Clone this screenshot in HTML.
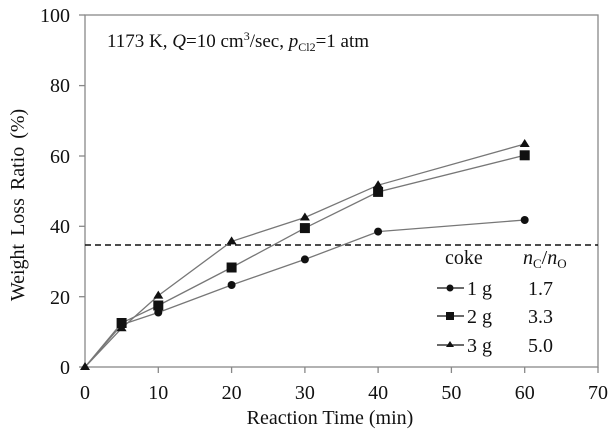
<!DOCTYPE html>
<html><head><meta charset="utf-8"><style>body{margin:0;background:#fff}svg{display:block}</style></head>
<body>
<svg width="614" height="437" viewBox="0 0 614 437" font-family="Liberation Serif, serif" fill="#111">
<rect x="85" y="15" width="513" height="352" fill="none" stroke="#888" stroke-width="1.3"/>
<g stroke="#888" stroke-width="1.3">
<line x1="79" y1="367" x2="85" y2="367"/><line x1="79" y1="296.7" x2="85" y2="296.7"/><line x1="79" y1="226.3" x2="85" y2="226.3"/><line x1="79" y1="156" x2="85" y2="156"/><line x1="79" y1="85.6" x2="85" y2="85.6"/><line x1="79" y1="15" x2="85" y2="15"/>
<line x1="158.3" y1="367" x2="158.3" y2="373"/><line x1="231.6" y1="367" x2="231.6" y2="373"/><line x1="304.9" y1="367" x2="304.9" y2="373"/><line x1="378.1" y1="367" x2="378.1" y2="373"/><line x1="451.4" y1="367" x2="451.4" y2="373"/><line x1="524.7" y1="367" x2="524.7" y2="373"/><line x1="598" y1="367" x2="598" y2="373"/>
</g>
<g font-size="20" text-anchor="end">
<text x="70" y="374">0</text><text x="70" y="304">20</text><text x="70" y="233">40</text><text x="70" y="163">60</text><text x="70" y="92">80</text><text x="70" y="22">100</text>
</g>
<g font-size="20" text-anchor="middle">
<text x="85" y="399">0</text><text x="158.3" y="399">10</text><text x="231.6" y="399">20</text><text x="304.9" y="399">30</text><text x="378.1" y="399">40</text><text x="451.4" y="399">50</text><text x="524.7" y="399">60</text><text x="598" y="399">70</text>
</g>
<text x="330" y="424" font-size="20" text-anchor="middle">Reaction Time (min)</text>
<text transform="translate(24,205) rotate(-90)" font-size="20" text-anchor="middle" word-spacing="3">Weight Loss Ratio (%)</text>
<text x="107" y="47" font-size="19">1173 K, <tspan font-style="italic">Q</tspan>=10 cm<tspan font-size="12" dy="-7">3</tspan><tspan dy="7">/sec, </tspan><tspan font-style="italic">p</tspan><tspan font-size="12" dy="4">Cl2</tspan><tspan dy="-4">=1 atm</tspan></text>
<line x1="85" y1="245" x2="598" y2="245" stroke="#111" stroke-width="1.6" stroke-dasharray="6,4"/>
<g fill="none" stroke="#777" stroke-width="1.3">
<polyline points="85,367 121.6,324.8 158.3,312.5 231.6,285 304.9,259.4 378.1,231.6 524.7,220"/>
<polyline points="85,367 121.6,323 158.3,305.5 231.6,267.5 304.9,228.1 378.1,191.9 524.7,155.3"/>
<polyline points="85,367 121.6,328.3 158.3,295.6 231.6,241.4 304.9,217.5 378.1,185.2 524.7,144"/>
</g>
<g>
<circle cx="158.3" cy="312.5" r="4"/><circle cx="231.6" cy="285" r="4"/><circle cx="304.9" cy="259.4" r="4"/><circle cx="378.1" cy="231.6" r="4"/><circle cx="524.7" cy="220" r="4"/>
<rect x="116.6" y="318" width="10" height="10"/><rect x="153.3" y="300.5" width="10" height="10"/><rect x="226.6" y="262.5" width="10" height="10"/><rect x="299.9" y="223.1" width="10" height="10"/><rect x="373.1" y="186.9" width="10" height="10"/><rect x="519.7" y="150.3" width="10" height="10"/>
<path d="M85,362 l5,8 h-10z M121.6,323.3 l5,8 h-10z M158.3,290.6 l5,8 h-10z M231.6,236.4 l5,8 h-10z M304.9,212.5 l5,8 h-10z M378.1,180.2 l5,8 h-10z M524.7,139 l5,8 h-10z"/>
</g>
<g font-size="20">
<text x="445" y="264">coke</text>
<text x="523" y="264"><tspan font-style="italic">n</tspan><tspan font-size="13" dy="4">C</tspan><tspan dy="-4">/</tspan><tspan font-style="italic">n</tspan><tspan font-size="13" dy="4">O</tspan></text>
<text x="467" y="295">1 g</text><text x="467" y="323">2 g</text><text x="467" y="352">3 g</text>
<text x="528" y="295">1.7</text><text x="528" y="323">3.3</text><text x="528" y="352">5.0</text>
</g>
<g stroke="#111" stroke-width="1.3">
<line x1="437" y1="288" x2="464" y2="288"/><line x1="437" y1="316" x2="464" y2="316"/><line x1="437" y1="345" x2="464" y2="345"/>
</g>
<circle cx="450" cy="288" r="3.5"/><rect x="446" y="312" width="8" height="8"/><path d="M450,341 l4,6 h-8z"/>
</svg>
</body></html>
